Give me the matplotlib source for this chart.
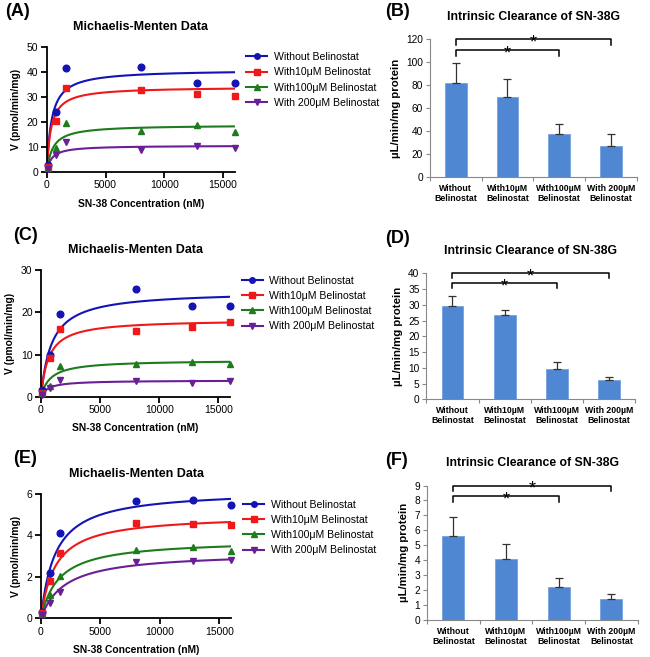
import numpy as np
import matplotlib
matplotlib.use('Agg')
import matplotlib.pyplot as plt
from matplotlib.lines import Line2D

plt.rcParams['font.family'] = ['Liberation Sans', 'DejaVu Sans']

# SN-38 concentrations (nM)
conc = [100, 800, 1600, 8000, 12800, 16000]
groups = ['Without Belinostat', 'With10\u03bcM Belinostat',
          'With100\u03bcM Belinostat', 'With 200\u03bcM Belinostat']
bar_labels = ['Without\nBelinostat', 'With10\u00b5M\nBelinostat',
              'With100\u00b5M\nBelinostat', 'With 200\u00b5M\nBelinostat']

# panel A data
v_a = [[3, 24, 41.3, 42, 35.5, 35.4],
       [2, 20.4, 33.6, 32.8, 31, 30.4],
       [1.5, 9.6, 19.6, 16.2, 18.6, 16.1],
       [1.2, 6.9, 12.1, 9, 10.4, 9.8]]
vmax_a = [40.8, 34, 18.8, 10.6]
km_a = [400, 350, 500, 400]

# panel C data
v_c = [[1.5, 10, 19.7, 25.6, 21.6, 21.6],
       [1.0, 9.2, 16, 15.6, 16.5, 17.8],
       [0.8, 2.5, 7.3, 7.7, 8.2, 7.7],
       [0.5, 2.0, 3.9, 3.8, 3.2, 3.8]]
vmax_c = [25, 18.3, 8.7, 3.9]
km_c = [900, 650, 800, 600]

# panel E data
v_e = [[0.3, 2.2, 4.1, 5.65, 5.7, 5.45],
       [0.25, 1.8, 3.15, 4.6, 4.55, 4.5],
       [0.2, 1.1, 2.05, 3.3, 3.45, 3.25],
       [0.15, 0.72, 1.28, 2.7, 2.75, 2.8]]
vmax_e = [6.2, 5.0, 3.8, 3.2]
km_e = [1200, 1200, 1500, 2000]

# intrinsic clearance bars
cl_b = [82, 70, 37, 26.5]
err_b = [17, 15, 9.5, 10.5]
cl_d = [29.7, 26.8, 9.6, 6.3]
err_d = [3.2, 1.6, 2.4, 0.9]
cl_f = [5.6, 4.1, 2.25, 1.4]
err_f = [1.3, 1.0, 0.6, 0.32]

colors = ['#1414B4', '#F01818', '#1E7B1E', '#6A1F96']
markers = ['o', 's', '^', 'v']
bar_color = '#4F87D2'

fig = plt.figure(figsize=(6.5, 6.57), dpi=100)


def mm_panel(rect, data, vmax, km, ymax, yticks, letter, lab_xy):
    ax = fig.add_axes(rect)
    xs = np.linspace(0, 16000, 400)
    for i in range(4):
        ax.plot(xs, vmax[i] * xs / (km[i] + xs), color=colors[i], lw=1.5)
        ax.plot(conc, data[i], ls='none', marker=markers[i], color=colors[i], ms=4.8,
                clip_on=False, zorder=3)
    ax.set_xlim(0, 16000)
    ax.set_ylim(0, ymax)
    ax.set_xticks([0, 5000, 10000, 15000])
    ax.set_yticks(yticks)
    for s in ['top', 'right']:
        ax.spines[s].set_visible(False)
    for s in ['left', 'bottom']:
        ax.spines[s].set_linewidth(1.3)
    ax.tick_params(width=1.3, length=4, labelsize=7.5, pad=2)
    ax.set_xlabel('SN-38 Concentration (nM)', fontsize=7.4, fontweight='bold', labelpad=6)
    ax.set_ylabel('V (pmol/min/mg)', fontsize=7.4, fontweight='bold', labelpad=4)
    ax.set_title('Michaelis-Menten Data', fontsize=9, fontweight='bold', pad=12)
    handles = [Line2D([], [], color=colors[i], marker=markers[i], ms=4, lw=1.5) for i in range(4)]
    ax.legend(handles, groups, loc='upper left', bbox_to_anchor=(1.04, 0.99), frameon=False,
              fontsize=7.6, handlelength=2.0, handletextpad=0.6, labelspacing=0.5,
              borderaxespad=0)
    fig.text(lab_xy[0], lab_xy[1], letter, fontsize=13, fontweight='bold', va='top')
    return ax


def bar_panel(rect, vals, errs, ymax, ystep, letter, lab_xy):
    ax = fig.add_axes(rect)
    x = np.arange(4)
    ax.bar(x, vals, width=0.42, color=bar_color, edgecolor='#6C9BDB', linewidth=0.5)
    ax.errorbar(x, vals, yerr=[np.zeros(4), errs], fmt='none', ecolor='#333333',
                elinewidth=0.9, capsize=3, capthick=0.9)
    ax.set_xlim(-0.5, 3.5)
    ax.set_ylim(0, ymax)
    ax.set_yticks(np.arange(0, ymax + ystep / 2, ystep))
    ax.set_xticks(x)
    ax.set_xticklabels(bar_labels, fontsize=6.3, fontweight='bold', linespacing=1.15)
    ax.set_xticks(np.arange(-0.5, 4, 1), minor=True)
    ax.tick_params(axis='x', which='major', length=0, pad=5)
    ax.tick_params(axis='x', which='minor', length=3, color='#888888', width=0.8, direction='out')
    ax.tick_params(axis='y', length=3, color='#888888', width=0.8, labelsize=7.3, pad=2)
    for s in ['top', 'right']:
        ax.spines[s].set_visible(False)
    for s in ['left', 'bottom']:
        ax.spines[s].set_linewidth(0.8)
        ax.spines[s].set_color('#888888')
    ax.set_ylabel('\u00b5L/min/mg protein', fontsize=8.2, fontweight='bold', labelpad=4)
    ax.set_title('Intrinsic Clearance of SN-38G', fontsize=8.8, fontweight='bold', pad=14)
    tr = ax.get_xaxis_transform()
    for (x1, yb) in [(3, 1.0), (2, 0.92)]:
        ax.plot([0, 0, x1, x1], [yb - 0.04, yb, yb, yb - 0.04], color='black', lw=1.1,
                transform=tr, clip_on=False)
        ax.annotate('*', xy=(x1 / 2, yb), xycoords=tr, xytext=(0, -6),
                    textcoords='offset points', ha='center', va='baseline', fontsize=13)
    fig.text(lab_xy[0], lab_xy[1], letter, fontsize=13, fontweight='bold', va='top')
    return ax


mm_panel([0.072, 0.738, 0.289, 0.191], v_a, vmax_a, km_a, 50, [0, 10, 20, 30, 40, 50],
         '(A)', (0.008, 0.995))
mm_panel([0.063, 0.396, 0.291, 0.193], v_c, vmax_c, km_c, 30, [0, 10, 20, 30],
         '(C)', (0.02, 0.655))
mm_panel([0.063, 0.059, 0.293, 0.189], v_e, vmax_e, km_e, 6, [0, 2, 4, 6],
         '(E)', (0.02, 0.315))

bar_panel([0.6615, 0.731, 0.318, 0.209], cl_b, err_b, 120, 20, '(B)', (0.592, 0.995))
bar_panel([0.656, 0.392, 0.321, 0.192], cl_d, err_d, 40, 5, '(D)', (0.592, 0.65))
bar_panel([0.657, 0.056, 0.324, 0.205], cl_f, err_f, 9, 1, '(F)', (0.592, 0.312))

fig.savefig('out.png', dpi=100)
